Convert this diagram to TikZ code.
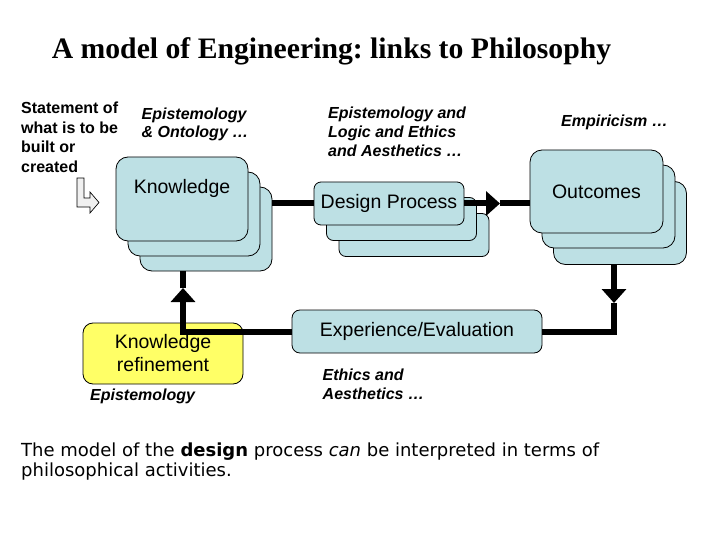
\documentclass[tikz,border=0pt]{standalone}
\usepackage{fontspec}
\setmainfont{Liberation Sans}
\newfontfamily\titlefont{Liberation Serif}
\newfontfamily\notefont{DejaVu Sans}
\usetikzlibrary{arrows.meta}
\frenchspacing
\definecolor{boxteal}{RGB}{189,224,228}
\definecolor{boxyellow}{RGB}{255,255,102}
\definecolor{hollowgray}{RGB}{240,240,240}
\tikzset{
  card/.style={draw=black, line width=0.8pt, fill=boxteal, rounded corners=#1,
    inner sep=0pt, font=\fontsize{19.5}{23}\selectfont, align=center},
  card/.default=12pt,
  notetext/.style={anchor=north west, inner sep=0pt, align=left,
    font=\fontsize{16}{19}\selectfont\bfseries\itshape},
  plaintext/.style={anchor=north west, inner sep=0pt, align=left,
    font=\fontsize{16}{19.5}\selectfont\bfseries},
  flow/.style={line width=6pt},
  flowarrow/.style={line width=6pt, -{Triangle[length=14pt,width=24pt]}},
}
\begin{document}
\begin{tikzpicture}[x=1pt,y=-1pt]
\useasboundingbox (0,0) rectangle (720,540);

% title
\node[font=\titlefont\bfseries\fontsize{29.7}{36}\selectfont] (title) at (331.5,51.5)
  {A model of Engineering: links to Philosophy};

% side labels
\node[plaintext] (stmt) at (21,102) {Statement of\\what is to be\\built or\\created};
\node[notetext, font=\fontsize{16}{18}\selectfont\bfseries\itshape] (epo) at (141.5,107.5) {Epistemology\\\&~Ontology \dots};
\node[notetext] (elea) at (328,106.5) {Epistemology and\\Logic and Ethics\\and Aesthetics \dots};
\node[notetext] (emp) at (561,115) {Empiricism \dots};
\node[notetext] (epb) at (90,388.5) {Epistemology};
\node[notetext, font=\fontsize{16}{18.7}\selectfont\bfseries\itshape] (ea) at (322.5,369) {Ethics and\\Aesthetics \dots};

% hollow bent arrow
\draw[fill=hollowgray, line width=0.7pt] (77,178) -- (84,178) -- (84,198) -- (90,198)
  -- (90,192) -- (99,202.5) -- (90,213) -- (90,207) -- (77,207) -- cycle;

% Knowledge stack
\node[card, minimum width=132pt, text height=0pt, text depth=84pt] (kb3) at (206,229) {};
\node[card, minimum width=132pt, text height=0pt, text depth=84pt] (kb2) at (194,214) {};
\node[card, minimum width=132pt, text height=36.3pt, text depth=47.7pt] (kb1) at (182,199) {Knowledge};

% Design Process stack
\node[card=7pt, minimum width=150pt, minimum height=43pt] (dp3) at (414,235) {};
\node[card=7pt, minimum width=150pt, minimum height=43pt] (dp2) at (401.5,219) {};
\node[card=7pt, minimum width=150pt, minimum height=43pt] (dp1) at (389,203.5) {Design Process};

% Outcomes stack
\node[card, minimum width=133pt, minimum height=83pt] (oc3) at (620,223) {};
\node[card, minimum width=133pt, minimum height=83pt] (oc2) at (608.5,206.5) {};
\node[card, minimum width=133pt, minimum height=83pt] (oc1) at (596.5,191.5) {Outcomes};

% Knowledge refinement
\node[card=10pt, fill=boxyellow, minimum width=160pt, minimum height=61pt] (kr) at (163,353.5)
  {Knowledge\\refinement};

% Experience / Evaluation
\node[card=8pt, minimum width=250pt, minimum height=43pt] (ex) at (417,331.5) {Experience/Evaluation};

% connectors
\coordinate (rtip) at (500,203.5);
\coordinate (dtip) at (614,303);
\coordinate (utip) at (183,288);
\draw[flow] (kb3.east |- dp1.west) -- (dp1.west);
\draw[flowarrow] (dp1.east) -- (rtip);
\draw[flow] (rtip) -- (rtip -| oc1.west);
\draw[flowarrow] (dtip |- oc3.south) -- (dtip);
\draw[flow] (dtip) |- (ex.east);
\draw[flowarrow] (ex.west) -| (utip);
\draw[flow] (utip) -- (utip |- kb3.south);

% note
\node[anchor=north west, inner sep=0pt, align=left,
  font=\notefont\fontsize{18}{20}\selectfont] (note) at (21,442.5)
  {The model of the \textbf{design} process \textit{can} be interpreted in terms of\\philosophical activities.};
\end{tikzpicture}
\end{document}
